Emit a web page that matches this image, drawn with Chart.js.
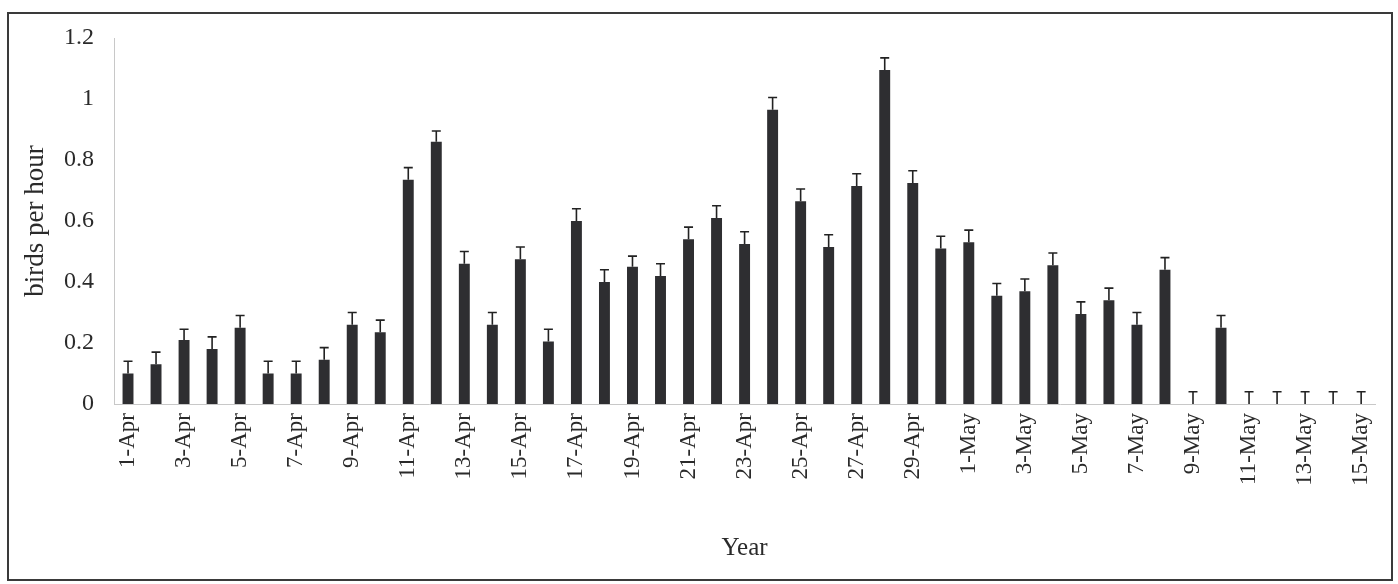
<!DOCTYPE html>
<html>
<head>
<meta charset="utf-8">
<script src="https://cdn.jsdelivr.net/npm/chart.js@4.4.1/dist/chart.umd.min.js"></script>
<style>
  html, body { margin: 0; padding: 0; background: #fff; }
  #wrap { position: absolute; left: 0; top: 0; width: 1398px; height: 584px; }
</style>
</head>
<body>
<div id="wrap"><canvas id="birdChart"></canvas></div>
<script>
  'use strict'

  // days of the survey
  const days = [
    '1-Apr', '2-Apr', '3-Apr', '4-Apr', '5-Apr', '6-Apr', '7-Apr', '8-Apr', '9-Apr', '10-Apr',
    '11-Apr', '12-Apr', '13-Apr', '14-Apr', '15-Apr', '16-Apr', '17-Apr', '18-Apr', '19-Apr', '20-Apr',
    '21-Apr', '22-Apr', '23-Apr', '24-Apr', '25-Apr', '26-Apr', '27-Apr', '28-Apr', '29-Apr', '30-Apr',
    '1-May', '2-May', '3-May', '4-May', '5-May', '6-May', '7-May', '8-May', '9-May', '10-May',
    '11-May', '12-May', '13-May', '14-May', '15-May'
  ]

  // mean birds per hour
  const birdsPerHour = [
    0.10, 0.13, 0.21, 0.18, 0.25, 0.10, 0.10, 0.145, 0.26, 0.235,
    0.735, 0.86, 0.46, 0.26, 0.475, 0.205, 0.60, 0.40, 0.45, 0.42,
    0.54, 0.61, 0.525, 0.965, 0.665, 0.515, 0.715, 1.095, 0.725, 0.51,
    0.53, 0.355, 0.37, 0.455, 0.295, 0.34, 0.26, 0.44, 0, 0.25,
    0, 0, 0, 0, 0
  ]

  // upper error (SE)
  const errUp = [
    0.04, 0.04, 0.035, 0.04, 0.04, 0.04, 0.04, 0.04, 0.04, 0.04,
    0.04, 0.035, 0.04, 0.04, 0.04, 0.04, 0.04, 0.04, 0.035, 0.04,
    0.04, 0.04, 0.04, 0.04, 0.04, 0.04, 0.04, 0.04, 0.04, 0.04,
    0.04, 0.04, 0.04, 0.04, 0.04, 0.04, 0.04, 0.04, 0.04, 0.04,
    0.04, 0.04, 0.04, 0.04, 0.04
  ]

  const yTicks = [0, 0.2, 0.4, 0.6, 0.8, 1, 1.2]

  const serif = "'Liberation Serif', 'DejaVu Serif', serif"

  // frame round the whole figure
  const framePlugin = {
    id: 'frame',
    beforeDraw(chart) {
      const c = chart.ctx
      c.save()
      c.fillStyle = '#fff'
      c.fillRect(0, 0, chart.width, chart.height)
      c.strokeStyle = '#3a3a3a'
      c.lineWidth = 2
      c.strokeRect(8, 13, 1384, 567)
      c.restore()
    }
  }

  // T-shaped upper error bars
  const errorBars = {
    id: 'errorBars',
    afterDatasetsDraw(chart) {
      const c = chart.ctx
      const y = chart.scales.y
      const meta = chart.getDatasetMeta(0)
      c.save()
      c.strokeStyle = '#222'
      c.lineWidth = 1.6
      meta.data.forEach((bar, i) => {
        const top = y.getPixelForValue(birdsPerHour[i] + errUp[i])
        const base = y.getPixelForValue(birdsPerHour[i])
        c.beginPath()
        c.moveTo(bar.x, base)
        c.lineTo(bar.x, top)
        c.moveTo(bar.x - 4.5, top)
        c.lineTo(bar.x + 4.5, top)
        c.stroke()
      })
      c.restore()
    }
  }

  new Chart(document.getElementById('birdChart'), {
    type: 'bar',
    data: {
      labels: days,
      datasets: [{
        data: birdsPerHour,
        backgroundColor: '#2e2e31',
        borderWidth: 0,
        categoryPercentage: 1,
        barPercentage: 0.39
      }]
    },
    options: {
      responsive: true,
      maintainAspectRatio: false,
      animation: false,
      layout: { padding: { left: 0, right: 22, top: 38, bottom: 0 } },
      plugins: {
        legend: { display: false },
        tooltip: { enabled: false }
      },
      scales: {
        x: {
          grid: { display: false, drawTicks: false },
          border: { display: true, color: '#c8c8c8', dash: [2, 3] },
          ticks: {
            autoSkip: false,
            maxRotation: 90,
            minRotation: 90,
            padding: 9,
            color: '#2a2a2a',
            font: { family: serif, size: 23 },
            callback: (v, i) => (i % 2 === 0 ? days[i] : '')
          },
          title: {
            display: true,
            text: 'Year',
            color: '#2a2a2a',
            font: { family: serif, size: 25 },
            padding: { top: 0, bottom: 21 }
          },
          afterFit: (s) => { s.height = 180 }
        },
        y: {
          min: 0,
          max: 1.2,
          grid: { display: false, drawTicks: false },
          border: { display: true, color: '#c8c8c8', dash: [2, 3] },
          afterBuildTicks: (s) => { s.ticks = yTicks.map(v => ({ value: v })) },
          ticks: {
            padding: 20,
            color: '#2a2a2a',
            font: { family: serif, size: 24 },
            callback: (v) => String(Math.round(v * 10) / 10)
          },
          title: {
            display: true,
            text: 'birds per hour',
            color: '#2a2a2a',
            font: { family: serif, size: 27 },
            padding: { top: 20, bottom: 0 }
          },
          afterFit: (s) => { s.width = 114 }
        }
      }
    },
    plugins: [framePlugin, errorBars]
  })
</script>
</body>
</html>
